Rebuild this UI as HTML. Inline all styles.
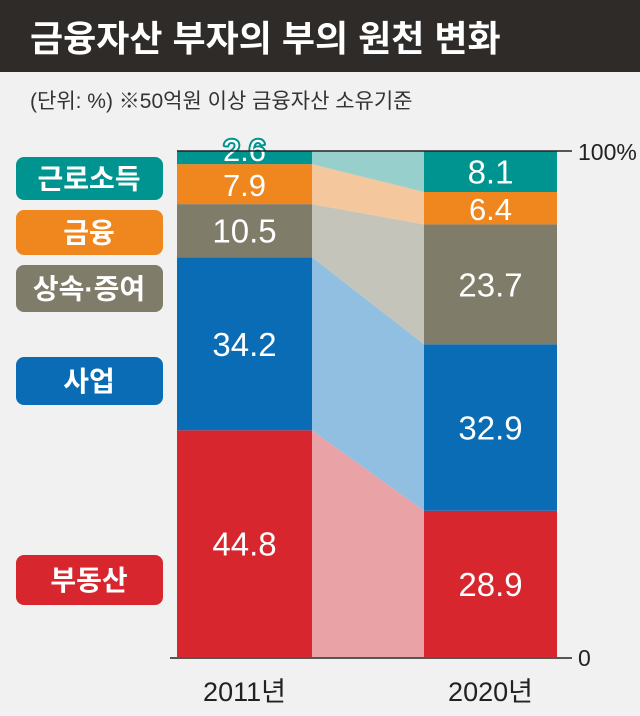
<!DOCTYPE html>
<html><head><meta charset="utf-8"><style>
body{margin:0;background:#f1f1f1;}
svg{display:block;font-family:"Liberation Sans","Noto Sans CJK KR",sans-serif;}
</style></head><body>
<svg width="640" height="716" viewBox="0 0 640 716">
<rect x="0" y="0" width="640" height="716" fill="#f1f1f1"/>
<rect x="0" y="0" width="640" height="72" fill="#2e2b29"/>
<text x="30" y="51" font-size="36" font-weight="bold" fill="#fff">금융자산 부자의 부의 원천 변화</text>
<text x="30" y="108" font-size="21" fill="#333">(단위: %) ※50억원 이상 금융자산 소유기준</text>
<g id="chart"></g>
</svg>
<script>
const categories=["부동산","사업","상속·증여","금융","근로소득"];
const years=["2011년","2020년"];
const values2011=[44.8,34.2,10.5,7.9,2.6];
const values2020=[28.9,32.9,23.7,6.4,8.1];
const tickLabels=["0","100%"];
const colors=["#d8262e","#0a6cb5","#807c6a","#f0861e","#009490"];
const light=["#e9a3a6","#90bfe2","#c5c4bb","#f4c79d","#96cfcb"];
const labelBoxY=[555,357,265,210,157];
const labelBoxH=[50,48,47,45,43];
const NS="http://www.w3.org/2000/svg";
const g=document.getElementById('chart');
const y0=657,y100=151;
const y=v=>y0-(y0-y100)*v/100;
const bx=[177,424],bw=[135,133];
function mk(t,a){const e=document.createElementNS(NS,t);for(const k in a)e.setAttribute(k,a[k]);g.appendChild(e);return e;}
const series=[values2011,values2020];
let c1=0,c2=0;
for(let i=0;i<categories.length;i++){
 const a0=y(c1),a1=y(c1+values2011[i]),b0=y(c2),b1=y(c2+values2020[i]);
 const p=mk('polygon',{points:`${bx[0]+bw[0]},${a0} ${bx[1]},${b0} ${bx[1]},${b1} ${bx[0]+bw[0]},${a1}`,fill:light[i]});
 
 
 c1+=values2011[i];c2+=values2020[i];
}
for(let s=0;s<2;s++){
 let cum=0;
 for(let i=0;i<categories.length;i++){
  const v=series[s][i];const top=y(cum+v),bot=y(cum);
  const r=mk('rect',{x:bx[s],y:top,width:bw[s],height:bot-top,fill:colors[i]});
  
  
  const small=(bot-top)<40;
  const ty=(s==0&&i==4)?top+10:(top+bot)/2+12;
  const t=mk('text',{x:bx[s]+bw[s]/2,y:ty,'text-anchor':'middle','font-size':small?31:33,fill:'#fff',stroke:colors[i],'stroke-width':small?4:0,'paint-order':'stroke','stroke-linejoin':'round'});
  t.textContent=v.toFixed(1);
  
  
  cum+=v;
 }
 const yl=mk('text',{x:bx[s]+bw[s]/2,y:701,'text-anchor':'middle','font-size':27,fill:'#222'});
 yl.textContent=years[s];
 
 
}
const l1=mk('line',{x1:177,x2:572,y1:y(100),y2:y(100),stroke:'#222','stroke-width':1.5});


const l2=mk('line',{x1:170,x2:572,y1:y(0)+1,y2:y(0)+1,stroke:'#222','stroke-width':1.5});


[0,100].forEach((v,k)=>{const t=mk('text',{x:578,y:y(v)+9,'font-size':23,fill:'#222'});t.textContent=tickLabels[k];
 
 });
for(let i=0;i<categories.length;i++){
 const r=mk('rect',{x:16,y:labelBoxY[i],width:147,height:labelBoxH[i],rx:8,fill:colors[i]});
 
 
 const t=mk('text',{x:89,y:labelBoxY[i]+labelBoxH[i]/2+10,'text-anchor':'middle','font-size':28,'font-weight':'bold',fill:'#fff'});
 t.textContent=categories[i];
 
 
}
</script>
</body></html>
